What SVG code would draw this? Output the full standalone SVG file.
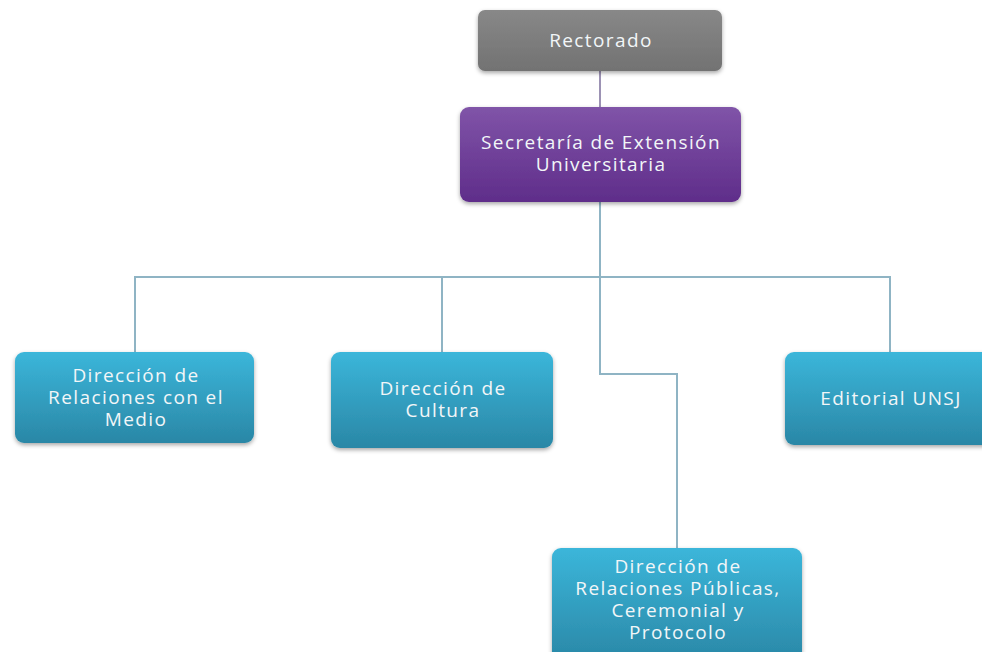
<svg xmlns="http://www.w3.org/2000/svg" width="982" height="652" viewBox="0 0 982 652">
<defs>
<linearGradient id="gGray" x1="0" y1="0" x2="0" y2="1"><stop offset="0" stop-color="#888888"/><stop offset="1" stop-color="#727272"/></linearGradient>
<linearGradient id="gPurple" x1="0" y1="0" x2="0" y2="1"><stop offset="0" stop-color="#8054a8"/><stop offset="1" stop-color="#5f2d8a"/></linearGradient>
<linearGradient id="gBlue" x1="0" y1="0" x2="0" y2="1"><stop offset="0" stop-color="#3bb6da"/><stop offset="1" stop-color="#2a87a6"/></linearGradient>
<filter id="sh" x="-10%" y="-10%" width="120%" height="130%"><feDropShadow dx="0" dy="2" stdDeviation="2" flood-color="#000" flood-opacity="0.35"/></filter>
</defs>
<style>
text{font-family:"Open Sans","Noto Sans","Liberation Sans",sans-serif;font-size:19px;letter-spacing:1.4px;fill:#f2f6f8;text-anchor:middle}
.box{filter:url(#sh)}
.con{fill:none;stroke:#8fb4c4;stroke-width:2}
</style>
<rect width="982" height="652" fill="#ffffff"/>
<g id="connectors">
<line x1="600" y1="71" x2="600" y2="107" stroke="#9c92b4" stroke-width="2"/>
<polyline class="con" points="600,202 600,276"/>
<polyline class="con" points="135,352 135,277 600,277 890,277 890,352"/>
<polyline class="con" points="442,352 442,277"/>
<polyline class="con" points="600,276 600,374 677,374 677,548"/>
</g>
<g id="rectorado">
<rect class="box" x="478" y="10" width="244" height="61" rx="7" fill="url(#gGray)"/>
<text x="601" y="47">Rectorado</text>
</g>
<g id="secretaria">
<rect class="box" x="460" y="107" width="281" height="95" rx="9" fill="url(#gPurple)"/>
<text x="601" y="149">Secretaría de Extensión</text>
<text x="601" y="171">Universitaria</text>
</g>
<g id="relaciones-medio">
<rect class="box" x="15" y="352" width="239" height="91" rx="9" fill="url(#gBlue)"/>
<text x="136" y="382">Dirección de</text>
<text x="136" y="404">Relaciones con el</text>
<text x="136" y="426">Medio</text>
</g>
<g id="cultura">
<rect class="box" x="331" y="352" width="222" height="96" rx="9" fill="url(#gBlue)"/>
<text x="443" y="395">Dirección de</text>
<text x="443" y="417">Cultura</text>
</g>
<g id="editorial">
<rect class="box" x="785" y="352" width="210" height="93" rx="9" fill="url(#gBlue)"/>
<text x="891" y="405">Editorial UNSJ</text>
</g>
<g id="relaciones-publicas">
<rect class="box" x="552" y="548" width="250" height="115" rx="9" fill="url(#gBlue)"/>
<text x="678" y="573">Dirección de</text>
<text x="678" y="595">Relaciones Públicas,</text>
<text x="678" y="617">Ceremonial y</text>
<text x="678" y="639">Protocolo</text>
</g>
</svg>
